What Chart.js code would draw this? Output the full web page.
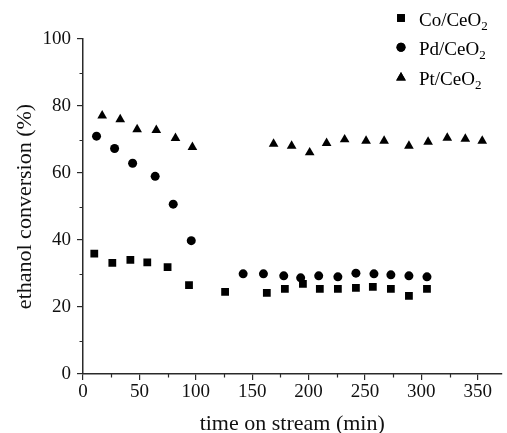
<!DOCTYPE html>
<html>
<head>
<meta charset="utf-8">
<script src="https://cdn.jsdelivr.net/npm/chart.js@4/dist/chart.umd.min.js"></script>
<style>
  html, body { margin: 0; padding: 0; background: #fff; }
  #wrap { width: 507px; height: 433px; position: relative; }
</style>
</head>
<body>
<div id="wrap"><canvas id="c" width="507" height="433"></canvas></div>
<script>
// values
const coTime = [10, 26, 42, 57, 75, 94, 126, 163, 179, 195, 210, 226, 242, 257, 273, 289, 305];
const coConv = [35.9, 33.2, 34.1, 33.3, 31.9, 26.5, 24.5, 24.2, 25.4, 26.9, 25.4, 25.4, 25.7, 26.0, 25.4, 23.3, 25.4];

const pdTime = [12, 28, 44, 64, 80, 96, 142, 160, 178, 193, 209, 226, 242, 258, 273, 289, 305];
const pdConv = [71.0, 67.3, 62.9, 59.0, 50.7, 39.8, 29.9, 29.9, 29.3, 28.7, 29.3, 29.0, 30.1, 29.9, 29.6, 29.3, 29.0];

const ptTime = [17, 33, 48, 65, 82, 97, 169, 185, 201, 216, 232, 251, 267, 289, 306, 323, 339, 354];
const ptConv = [77.1, 76.0, 73.0, 72.8, 70.4, 67.7, 68.7, 68.1, 66.1, 68.9, 70.0, 69.6, 69.6, 68.1, 69.3, 70.5, 70.2, 69.6];

const xTicks = [0, 50, 100, 150, 200, 250, 300, 350];
const yTicks = [0, 20, 40, 60, 80, 100];

const seriesNames = ['Co/CeO', 'Pd/CeO', 'Pt/CeO'];
const seriesMarks = ['rect', 'circle', 'triangle'];
const markSize = [5.5, 4.5, 5.6];

const FONT = '"Liberation Serif", "Times New Roman", serif';
const AXIS = '#2a2a2a';

function pts(xs, ys) {
  return xs.map((x, i) => ({ x: x, y: ys[i] }));
}

// short minor ticks + legend with subscripts
const extras = {
  id: 'extras',
  afterDraw(chart) {
    const ctx = chart.ctx;
    const xs = chart.scales.x, ys = chart.scales.y;
    const a = chart.chartArea;
    ctx.save();
    ctx.strokeStyle = AXIS;
    ctx.lineWidth = 1.2;
    ctx.beginPath();
    for (let v = 25; v <= xs.max; v += 50) {
      const px = Math.round(xs.getPixelForValue(v)) + 0.5;
      ctx.moveTo(px, a.bottom);
      ctx.lineTo(px, a.bottom + 3.5);
    }
    for (let v = 10; v < 100; v += 20) {
      const py = Math.round(ys.getPixelForValue(v)) + 0.5;
      ctx.moveTo(a.left - 3.5, py);
      ctx.lineTo(a.left, py);
    }
    ctx.stroke();

    // legend
    ctx.fillStyle = '#000';
    ctx.textBaseline = 'alphabetic';
    for (let i = 0; i < seriesNames.length; i++) {
      const cy = 18 + i * 29.3;
      Chart.helpers.drawPoint(ctx, {
        pointStyle: seriesMarks[i], radius: markSize[i], rotation: 0, borderWidth: 0
      }, 401, cy + (i === 2 ? 1 : 0));
      ctx.fill();
      ctx.font = '19px ' + FONT;
      ctx.fillText(seriesNames[i], 419, cy + 8);
      const w = ctx.measureText(seriesNames[i]).width;
      ctx.font = '13px ' + FONT;
      ctx.fillText('2', 419 + w, cy + 12);
    }
    ctx.restore();
  }
};

const ds = [pts(coTime, coConv), pts(pdTime, pdConv), pts(ptTime, ptConv)];

new Chart(document.getElementById('c'), {
  type: 'scatter',
  data: {
    datasets: ds.map((d, i) => ({
      label: seriesNames[i] + '2',
      data: d,
      pointStyle: seriesMarks[i],
      pointRadius: markSize[i],
      pointHoverRadius: markSize[i],
      backgroundColor: '#000',
      borderColor: '#000',
      borderWidth: 0
    }))
  },
  options: {
    responsive: false,
    animation: false,
    layout: { padding: { top: 39, right: 0, left: 0, bottom: 0 } },
    plugins: { legend: { display: false }, tooltip: { enabled: false } },
    scales: {
      x: {
        type: 'linear',
        min: 0,
        max: 371,
        afterFit(s) { s.height = 59; },
        afterBuildTicks(s) { s.ticks = xTicks.map(v => ({ value: v })); },
        ticks: { font: { family: FONT, size: 19 }, color: '#111', padding: 1, maxRotation: 0 },
        grid: { drawOnChartArea: false, drawTicks: true, tickLength: 6, color: AXIS, lineWidth: 1.2 },
        border: { display: true, color: AXIS, width: 1.5 },
        title: { display: true, text: 'time on stream (min)', font: { family: FONT, size: 22, lineHeight: 1 }, color: '#111', padding: { top: 0, bottom: -2 } }
      },
      y: {
        min: 0,
        max: 100,
        afterFit(s) { s.width = 83; },
        afterBuildTicks(s) { s.ticks = yTicks.map(v => ({ value: v })); },
        ticks: { font: { family: FONT, size: 19 }, color: '#111', padding: 6 },
        grid: { drawOnChartArea: false, drawTicks: true, tickLength: 6, color: AXIS, lineWidth: 1.2 },
        border: { display: true, color: AXIS, width: 1.5 },
        title: { display: true, text: 'ethanol conversion (%)', font: { family: FONT, size: 22, lineHeight: 1 }, color: '#111', padding: { top: 14, bottom: 0 } }
      }
    }
  },
  plugins: [extras]
});
</script>
</body>
</html>
